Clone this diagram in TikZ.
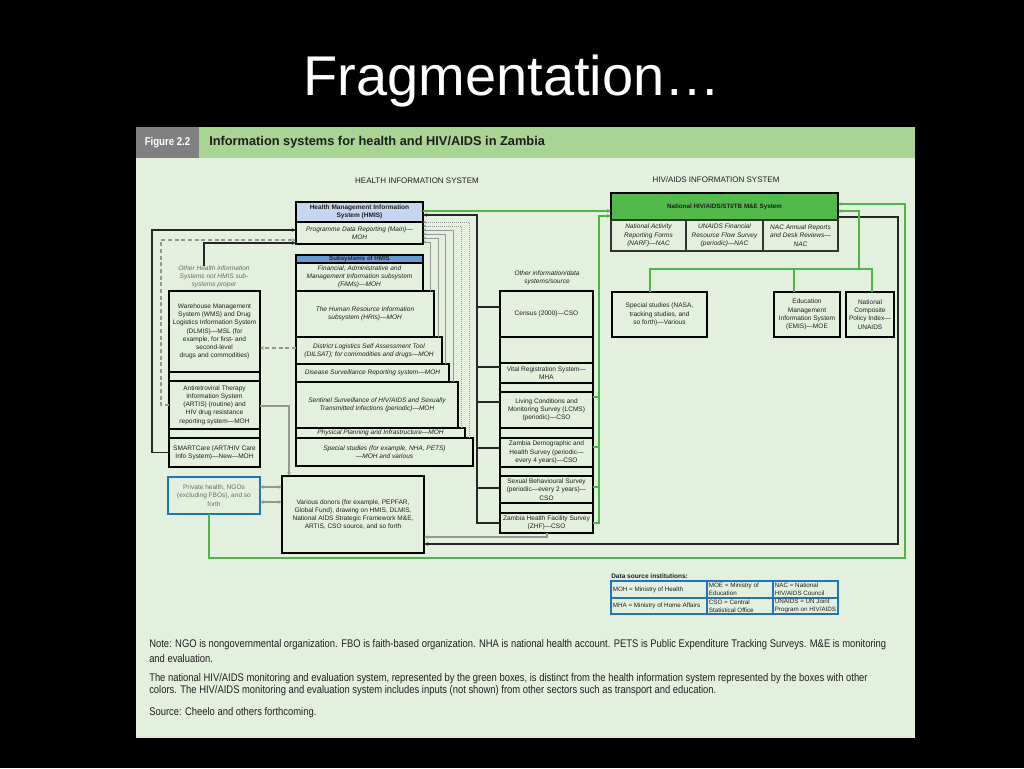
\documentclass[tikz,border=0pt]{standalone}
\usepackage{fontspec}
\setmainfont{Liberation Sans}
\newfontfamily\condfont[FakeStretch=0.85]{Liberation Sans}
\usetikzlibrary{arrows.meta}
\definecolor{panelbg}{RGB}{228,240,222}
\definecolor{headgreen}{RGB}{168,212,148}
\definecolor{figgray}{RGB}{128,128,128}
\definecolor{hmisblue}{RGB}{198,214,240}
\definecolor{subblue}{RGB}{108,152,214}
\definecolor{hivgreen}{RGB}{82,186,74}
\definecolor{lngreen}{RGB}{76,182,70}
\definecolor{tblue}{RGB}{28,118,190}
\definecolor{txt}{RGB}{30,30,30}
\definecolor{gtxt}{RGB}{105,105,105}
\definecolor{gyl}{RGB}{150,150,150}
\newcommand{\dfs}{\fontsize{4.9pt}{6.2pt}\selectfont}
\newcommand{\rbox}[7]{%
  \pgfmathsetmacro{\rbcx}{(#2+#4)/2}%
  \pgfmathsetmacro{\rbcy}{(#3+#5)/2}%
  \pgfmathsetmacro{\rbw}{(#4-#2)*0.75}%
  \pgfmathsetmacro{\rbh}{(#5-#3)*0.75}%
  \node[#6, minimum width=\rbw pt, minimum height=\rbh pt] (#1) at (\rbcx,\rbcy) {#7};}
\tikzset{
  hdr/.style={draw=none, inner sep=0pt, outer sep=0pt},
  box/.style={draw=black, line width=1.5pt, fill=panelbg, inner sep=0pt, outer sep=0pt, align=center, font=\dfs, text=txt},
  ibox/.style={box, font=\dfs\itshape},
  cell/.style={draw=black!80, line width=0.9pt, fill=panelbg, inner sep=0pt, outer sep=0pt, align=center, font=\dfs\itshape, text=txt},
  tcell/.style={draw=tblue, line width=1.1pt, inner sep=0pt, outer sep=0pt},
  lbl/.style={inner sep=0pt, outer sep=0pt, align=center, font=\dfs, text=txt},
  ttxt/.style={inner sep=0pt, align=left, font=\fontsize{4.7pt}{5.8pt}\selectfont, text=txt, anchor=west},
  note/.style={inner sep=0pt, anchor=west, font=\condfont\fontsize{8.3pt}{9pt}\selectfont, text=txt},
  gline/.style={draw=lngreen, line width=1.3pt},
  kline/.style={draw=black!85, line width=1.2pt},
  sline/.style={draw=gyl, line width=0.5pt},
  dline/.style={draw=gyl, line width=0.9pt, dash pattern=on 3pt off 2pt},
  gyline/.style={draw=gyl, line width=1pt},
  arr/.style={-{Stealth[length=3pt,width=2.6pt]}},
  arrs/.style={-{Stealth[length=2.2pt,width=2pt]}},
  darr/.style={{Stealth[length=3pt,width=2.6pt]}-{Stealth[length=3pt,width=2.6pt]}}
}
\begin{document}
\begin{tikzpicture}[x=0.75pt,y=-0.75pt]
\fill[black] (0,0) rectangle (1024,768);
\useasboundingbox (0,0) rectangle (1024,768);
\node[text=white, font=\fontsize{42pt}{48pt}\selectfont, inner sep=0pt] (title) at (512,81) {Fragmentation…};
\fill[panelbg] (136,127) rectangle (915,738);
% header
\rbox{headbar}{199}{127}{915}{158}{hdr, fill=headgreen}{}
\rbox{figlab}{136}{127}{199}{158}{hdr, fill=figgray, text=white, font=\condfont\bfseries\fontsize{8.5pt}{9pt}\selectfont}{Figure 2.2}
\node[anchor=west, inner sep=0pt, font=\bfseries\fontsize{9.6pt}{10pt}\selectfont, text=txt] (headtxt) at (209,142) {Information systems for health and HIV/AIDS in Zambia};
\node[lbl, font=\fontsize{6pt}{7pt}\selectfont] (his) at (417,181) {HEALTH INFORMATION SYSTEM};
\node[lbl, font=\fontsize{6pt}{7pt}\selectfont] (hivis) at (716,180) {HIV/AIDS INFORMATION SYSTEM};
% HMIS
\rbox{hmis}{296}{202}{423}{244}{box}{}
\rbox{hmistop}{296}{202}{423}{222}{box, fill=hmisblue, font=\dfs\bfseries}{Health Management Information\\System (HMIS)}
\node[lbl, font=\dfs\itshape] (hmistxt) at (359.5,233) {Programme Data Reporting (Main)—\\MOH};
% subsystems staircase
\rbox{special}{296}{438}{473}{466}{ibox}{Special studies (for example, NHA, PETS)\\—MOH and various}
\rbox{physical}{296}{428}{465}{438}{ibox}{Physical Planning and Infrastructure—MOH}
\rbox{sentinel}{296}{382}{458}{428}{ibox}{Sentinel Surveillance of HIV/AIDS and Sexually\\Transmitted Infections (periodic)—MOH}
\rbox{disease}{296}{364}{449}{382}{ibox}{Disease Surveillance Reporting system—MOH}
\rbox{dilsat}{296}{337}{442}{364}{ibox}{District Logistics Self Assessment Tool\\(DILSAT); for commodities and drugs—MOH}
\rbox{hris}{296}{291}{434}{337}{ibox}{The Human Resource Information\\subsystem (HRIs)—MOH}
\rbox{fams}{296}{263}{423}{291}{ibox}{Financial, Administrative and\\Management Information subsystem\\(FAMs)—MOH}
\rbox{subhead}{296}{255}{423}{263}{box, fill=subblue, font=\fontsize{4.6pt}{5pt}\selectfont\bfseries}{Subsystems of HMIS}
% left column
\node[lbl, font=\dfs\itshape, text=gtxt] (ihs) at (214,277) {Other Health information\\Systems not HMIS sub-\\systems proper};
\rbox{wms}{169}{291}{260}{372}{box}{Warehouse Management\\System (WMS) and Drug\\Logistics Information System\\(DLMIS)—MSL (for\\example, for first- and\\second-level\\drugs and commodities)}
\rbox{ls1}{169}{372}{260}{381}{box}{}
\rbox{artis}{169}{381}{260}{429}{box}{Antiretroviral Therapy\\Information System\\(ARTIS) (routine) and\\HIV drug resistance\\reporting system—MOH}
\rbox{ls2}{169}{429}{260}{438}{box}{}
\rbox{smart}{169}{438}{260}{467}{box}{SMARTCare (ART/HIV Care\\Info System)—New—MOH}
\rbox{private}{168}{477}{260}{514}{box, draw=tblue, text=gtxt}{Private health, NGOs\\(excluding FBOs), and so\\forth}
\rbox{donors}{282}{476}{424}{553}{box}{Various donors (for example, PEPFAR,\\Global Fund), drawing on HMIS, DLMIS,\\National AIDS Strategic Framework M\&E,\\ARTIS, CSO source, and so forth}
% middle column
\node[lbl, font=\dfs\itshape] (otherlbl) at (547,278) {Other information/data\\systems/source};
\rbox{census}{500}{291}{593}{337}{box}{Census (2000)—CSO}
\rbox{ms1}{500}{337}{593}{363}{box}{}
\rbox{vital}{500}{363}{593}{383}{box}{Vital Registration System—\\MHA}
\rbox{ms2}{500}{383}{593}{392}{box}{}
\rbox{lcms}{500}{392}{593}{428}{box}{Living Conditions and\\Monitoring Survey (LCMS)\\(periodic)—CSO}
\rbox{ms3}{500}{428}{593}{438}{box}{}
\rbox{zdhs}{500}{438}{593}{467}{box}{Zambia Demographic and\\Health Survey (periodic—\\every 4 years)—CSO}
\rbox{ms4}{500}{467}{593}{476}{box}{}
\rbox{sbs}{500}{476}{593}{503}{box}{Sexual Behavioural Survey\\(periodic—every 2 years)—\\CSO}
\rbox{ms5}{500}{503}{593}{513}{box}{}
\rbox{zhf}{500}{513}{593}{533}{box}{Zambia Health Facility Survey\\(ZHF)—CSO}
% HIV system
\rbox{hiv}{611}{193}{838}{220}{box, fill=hivgreen, font=\fontsize{4.7pt}{5.5pt}\selectfont\bfseries}{National HIV/AIDS/STI/TB M\&E System}
\rbox{narf}{611}{220}{686}{251}{cell}{National Activity\\Reporting Forms\\(NARF)—NAC}
\rbox{unaids}{686}{220}{763}{251}{cell}{UNAIDS Financial\\Resource Flow Survey\\(periodic)—NAC}
\rbox{nacr}{763}{220}{838}{251}{cell}{NAC Annual Reports\\and Desk Reviews—\\NAC}
\rbox{ssr}{612}{292}{707}{337}{box}{Special studies (NASA,\\tracking studies, and\\so forth)—Various}
\rbox{emis}{774}{292}{840}{337}{box}{Education\\Management\\Information System\\(EMIS)—MOE}
\rbox{ncpi}{846}{292}{894}{337}{box}{National\\Composite\\Policy Index—\\UNAIDS}
% data source table
\node[anchor=west, inner sep=0pt, font=\fontsize{4.9pt}{6pt}\selectfont\bfseries, text=txt] (dstitle) at (611,576) {Data source institutions:};
\rbox{c11}{611}{581}{707}{598}{tcell}{}
\rbox{c12}{707}{581}{773}{598}{tcell}{}
\rbox{c13}{773}{581}{838}{598}{tcell}{}
\rbox{c21}{611}{598}{707}{614}{tcell}{}
\rbox{c22}{707}{598}{773}{614}{tcell}{}
\rbox{c23}{773}{598}{838}{614}{tcell}{}
\node[ttxt] (t11) at ([xshift=1.2pt]c11.west) {MOH = Ministry of Health};
\node[ttxt] (t12) at ([xshift=1.2pt]c12.west) {MOE = Ministry of\\Education};
\node[ttxt] (t13) at ([xshift=1.2pt]c13.west) {NAC = National\\HIV/AIDS Council};
\node[ttxt] (t21) at ([xshift=1.2pt]c21.west) {MHA = Ministry of Home Affairs};
\node[ttxt] (t22) at ([xshift=1.2pt]c22.west) {CSO = Central\\Statistical Office};
\node[ttxt] (t23) at ([xshift=1.2pt]c23.west) {UNAIDS = UN Joint\\Program on HIV/AIDS};
% notes
\node[note] (n1) at (149,645) {Note: NGO is nongovernmental organization. FBO is faith-based organization. NHA is national health account. PETS is Public Expenditure Tracking Surveys. M\&E is monitoring};
\node[note] (n2) at (149,659) {and evaluation.};
\node[note] (n3) at (149,679) {The national HIV/AIDS monitoring and evaluation system, represented by the green boxes, is distinct from the health information system represented by the boxes with other};
\node[note] (n4) at (149,691) {colors. The HIV/AIDS monitoring and evaluation system includes inputs (not shown) from other sectors such as transport and education.};
\node[note] (n5) at (149,713) {Source: Cheelo and others forthcoming.};
% ---------------- connectors
% green HMIS -> HIV
\coordinate (y211) at (0,211);
\draw[gline,arr] (hmis.east |- y211) -- (hiv.west |- y211);
% green middle column -> HIV
\coordinate (gv) at (599,216);
\coordinate (gvl) at (599,397);
\coordinate (gvd) at (599,447);
\coordinate (gvs) at (599,487);
\draw[gline,arr] (zhf.east) -- (gv |- zhf.east) -- (gv) -- (hiv.west |- gv);
\draw[gline] (gvl) -- (lcms.east |- gvl);
\draw[gline] (gvd) -- (zdhs.east |- gvd);
\draw[gline] (gvs) -- (sbs.east |- gvs);
% black middle column -> HMIS
\coordinate (bv) at (477,215);
\coordinate (bc) at (477,307);
\coordinate (bvr) at (477,367);
\coordinate (bl) at (477,402);
\coordinate (bd) at (477,448);
\coordinate (bs) at (477,488);
\draw[kline,arr] (zhf.west) -- (bv |- zhf.west) -- (bv) -- (hmis.east |- bv);
\draw[kline] (bc) -- (census.west |- bc);
\draw[kline] (bvr) -- (vital.west |- bvr);
\draw[kline] (bl) -- (lcms.west |- bl);
\draw[kline] (bd) -- (zdhs.west |- bd);
\draw[kline] (bs) -- (sbs.west |- bs);
% thin grey lines subsystems -> HMIS
\coordinate (s1) at (469,222);
\coordinate (s2) at (461,226);
\coordinate (s3) at (453,230);
\coordinate (s4) at (445,234);
\coordinate (s5) at (438,238);
\coordinate (s6) at (430,242);
\draw[sline,densely dotted,arrs] (s1 |- special.north) -- (s1) -- (hmis.east |- s1);
\draw[sline,densely dotted,arrs] (s2 |- physical.north) -- (s2) -- (hmis.east |- s2);
\draw[sline,arrs] (s3 |- sentinel.north) -- (s3) -- (hmis.east |- s3);
\draw[sline,arrs] (s4 |- disease.north) -- (s4) -- (hmis.east |- s4);
\draw[sline,arrs] (s5 |- dilsat.north) -- (s5) -- (hmis.east |- s5);
\draw[sline,arrs] (s6 |- hris.north) -- (s6) -- (hmis.east |- s6);
% left side into HMIS
\coordinate (k1) at (152,230);
\draw[kline,arr] (smart.west) -- (k1 |- smart.west) -- (k1) -- (hmis.west |- k1);
\coordinate (d1) at (161,240);
\draw[dline,arr] (artis.west) -- (d1 |- artis.west) -- (d1) -- (hmis.west |- d1);
\coordinate (i1) at (204,243);
\draw[kline,arr] (i1 |- ihs.north) -- (i1) -- (hmis.west |- i1);
% DILSAT -> WMS
\coordinate (d2) at (0,348);
\draw[dline,arr] (dilsat.west |- d2) -- (wms.east |- d2);
% ARTIS -> donors
\coordinate (a1) at (289,406);
\draw[gyline,arr] (artis.east |- a1) -- (a1) -- (a1 |- donors.north);
% private <-> donors
\coordinate (p1) at (0,487);
\coordinate (p2) at (0,502);
\draw[gyline,darr] (private.east |- p1) -- (donors.west |- p1);
\draw[gyline,darr] (private.east |- p2) -- (donors.west |- p2);
% ZHF -> donors
\coordinate (z1) at (547,537);
\draw[gyline,arr] (z1 |- zhf.south) -- (z1) -- (donors.east |- z1);
% HIV -> donors
\coordinate (h1) at (898,217);
\coordinate (h2) at (898,544);
\draw[kline,arr] (hiv.east |- h1) -- (h1) -- (h2) -- (donors.east |- h2);
% green outer loop private -> HIV
\coordinate (g2) at (905,204);
\coordinate (g3) at (905,558);
\coordinate (g4) at (209,558);
\draw[gline,arr] (g4 |- private.south) -- (g4) -- (g3) -- (g2) -- (hiv.east |- g2);
% green tree
\coordinate (t1) at (859,211);
\coordinate (t2) at (859,269);
\coordinate (t3) at (650,269);
\coordinate (t4) at (872,269);
\coordinate (t5) at (794,269);
\draw[gline,arr] (t2) -- (t1) -- (hiv.east |- t1);
\draw[gline] (t3 |- ssr.north) -- (t3) -- (t4) -- (t4 |- ncpi.north);
\draw[gline] (t5 |- emis.north) -- (t5);
\end{tikzpicture}
\end{document}
